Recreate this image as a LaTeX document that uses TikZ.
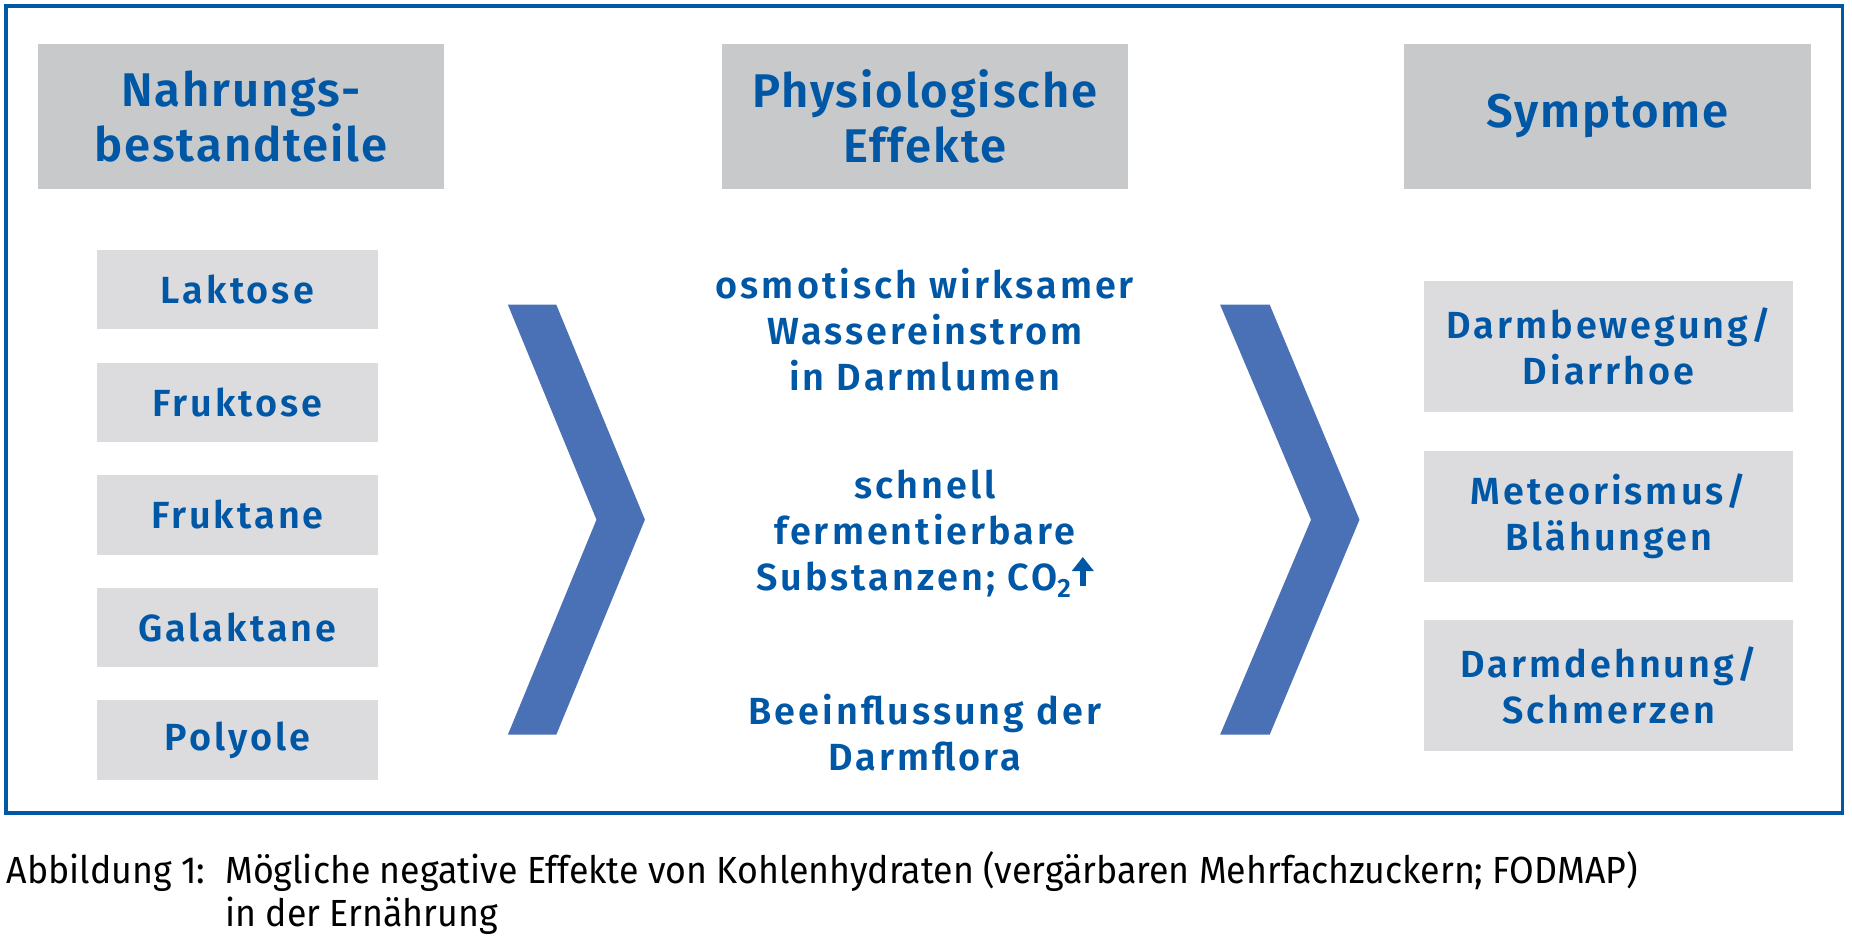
\documentclass[tikz,border=0pt]{standalone}
\usepackage{fontspec}
\setmainfont{Fira Sans}
\newfontfamily\capfont[FakeStretch=0.945]{Fira Sans}
\newfontfamily\headfont[LetterSpace=4]{Fira Sans SemiBold}
\newfontfamily\bluefont[LetterSpace=8]{Fira Sans SemiBold}
\usetikzlibrary{positioning,arrows.meta}

\definecolor{framblue}{RGB}{0,87,166}
\definecolor{chevblue}{RGB}{74,112,181}
\definecolor{headgray}{RGB}{200,201,203}
\definecolor{itemgray}{RGB}{220,220,222}

\newcommand{\upmark}{\tikz[baseline=0pt]\draw[color=framblue, line width=2.6pt, -{Triangle[width=9pt,length=6pt]}] (0,0.12em) -- (0,0.9em);}

\tikzset{every picture/.style={line width=0.75pt}}
\tikzset{
  headbox/.style={fill=headgray, text=framblue, font=\headfont\fontsize{20}{23.3}\selectfont, align=center, minimum width=172pt, minimum height=61.5pt, inner sep=0pt},
  itembox/.style={fill=itemgray, text=framblue, font=\bluefont\fontsize{16}{19.5}\selectfont, align=center, minimum width=119pt, minimum height=33.5pt, inner sep=0pt},
  symbox/.style={itembox, minimum width=156pt, minimum height=55.5pt},
  efftext/.style={text=framblue, font=\bluefont\fontsize{16}{19.5}\selectfont, align=center, inner sep=0pt},
  chevron/.style={fill=chevblue, draw=none},
  captext/.style={font=\capfont\fontsize{16}{18}\selectfont, anchor=base west, inner sep=0pt}
}

\begin{document}
\begin{tikzpicture}[x=0.5pt,y=0.5pt,yscale=-1,xscale=1]
\useasboundingbox (0,0) rectangle (1568,800);

%Shape: Rectangle [frame]
\draw [color=framblue, line width=1.6pt] (5,5) rectangle (1560,688);

% Header Nodes
\node [headbox] (food) at (204,98.5) {Nahrungs-\\bestandteile};
\node [headbox] (phys) at (783,98.5) {Physiologische\\Effekte};
\node [headbox] (symp) at (1361,98.5) {Symptome};

% Food Nodes
\node [itembox] (lak) at (201,245) {Laktose};
\node [itembox] (fru) at (201,340.5) {Fruktose};
\node [itembox] (frk) at (201,436) {Fruktane};
\node [itembox] (gal) at (201,531) {Galaktane};
\node [itembox] (pol) at (201,626.5) {Polyole};

%Shape: Chevron [left]
\fill [chevron] (430,258) -- (471,258) -- (546,440) -- (471,622) -- (430,622) -- (505,440) -- cycle;
%Shape: Chevron [right]
\fill [chevron] (1033,258) -- (1075,258) -- (1151,440) -- (1075,622) -- (1033,622) -- (1110,440) -- cycle;

% Effect Nodes
\node [efftext] (osm) at (783,279) {osmotisch wirksamer\\Wassereinstrom\\in Darmlumen};
\node [efftext] (ferm) at (783,452) {schnell\\fermentierbare\\Substanzen; CO\textsubscript{2}\upmark};
\node [efftext] (flor) at (783,620) {Beeinflussung der\\Darmflora};

% Symptom Nodes
\node [symbox] (diar) at (1362,293.5) {Darmbewegung/\\Diarrhoe};
\node [symbox] (blae) at (1362,437) {Meteorismus/\\Blähungen};
\node [symbox] (schm) at (1362,580.5) {Darmdehnung/\\Schmerzen};

% Caption
\node [captext] (cap0) at (5,748) {Abbildung 1:};
\node [captext] (cap1) at (190,748) {Mögliche negative Effekte von Kohlenhydraten (vergärbaren Mehrfachzuckern; FODMAP)};
\node [captext] (cap2) at (190,784) {in der Ernährung};

\end{tikzpicture}
\end{document}
